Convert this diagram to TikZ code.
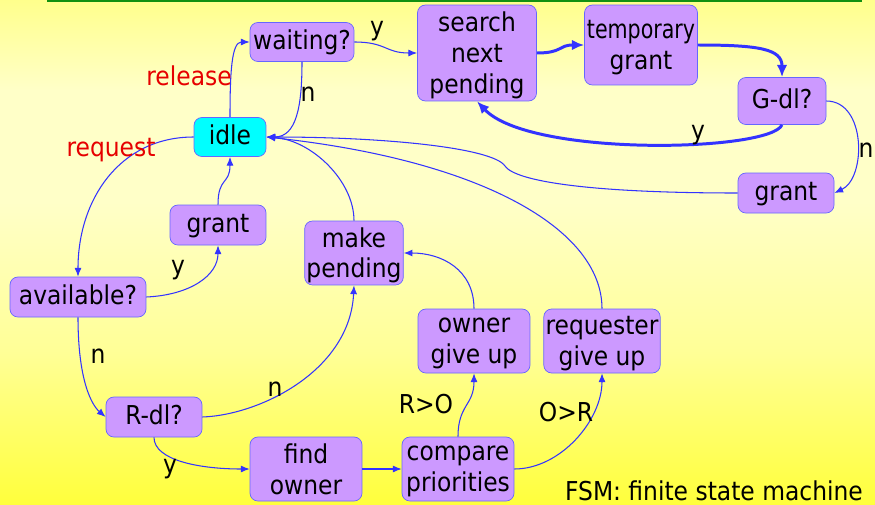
\documentclass[tikz,border=0pt]{standalone}
\usepackage{fontspec}
\setmainfont{DejaVu Sans Condensed}
\newfontfamily\squeezed[FakeStretch=0.88]{DejaVu Sans Condensed}
\usetikzlibrary{arrows.meta}
\definecolor{boxfill}{HTML}{CC99FF}
\definecolor{boxline}{HTML}{6666FF}
\definecolor{idlefill}{HTML}{00FFFF}
\definecolor{wire}{HTML}{3333FF}
\definecolor{bar}{HTML}{119011}
\definecolor{evt}{HTML}{E60000}
\definecolor{bgtop}{HTML}{FFFF8C}
\definecolor{bgmid}{HTML}{FFFFC8}
\definecolor{bglow}{HTML}{FFFF96}
\definecolor{bgbot}{HTML}{FFFF3C}
\pgfdeclareverticalshading{slide}{100bp}{color(0bp)=(bgbot); color(25bp)=(bgbot); color(40bp)=(bglow); color(55bp)=(bgmid); color(66bp)=(bgmid); color(75bp)=(bgtop); color(100bp)=(bgtop)}
\tikzset{
    fsm/.style={draw=boxline,fill=boxfill,rounded corners=4.5pt,align=center,inner sep=1pt},
    oneline/.style={text height=0.9em,text depth=0.1em},
    multiline/.style={text depth=0.04em},
    link/.style={draw=wire,line width=0.6pt,-{Latex[length=5pt,width=4pt]}},
    boldlink/.style={draw=wire,line width=1.7pt,-{Latex[length=7pt,width=6pt]}},
    evtlbl/.style={text=evt}
}

\begin{document}
\begin{tikzpicture}[x=0.02cm,y=-0.02cm,font=\fontsize{14.8}{17.5}\selectfont]

%========================
% Sfondo
%========================

\useasboundingbox (0,0) rectangle (875,504);
\shade[shading=slide] (0,0) rectangle (875,504);
\draw[bar,line width=1.7pt] (47,1) -- (862,1);

%========================
% Stati
%========================

\node[fsm,minimum width=2.08cm,minimum height=0.78cm,oneline] (wait) at (302,42) {waiting?};
\node[fsm,minimum width=2.38cm,minimum height=1.92cm,multiline] (srch) at (477,53) {search\\next\\pending};
\node[fsm,minimum width=2.26cm,minimum height=1.6cm,multiline] (temp) at (641,45) {{\squeezed temporary}\\grant};
\node[fsm,minimum width=1.76cm,minimum height=0.94cm,oneline] (gdl) at (782,101) {G-dl?};
\node[fsm,minimum width=1.44cm,minimum height=0.78cm,oneline,fill=idlefill] (idle) at (230,137) {idle};
\node[fsm,minimum width=1.92cm,minimum height=0.8cm,oneline] (grantR) at (786,193) {grant};
\node[fsm,minimum width=1.92cm,minimum height=0.8cm,oneline] (grantL) at (218,225) {grant};
\node[fsm,minimum width=1.92cm,minimum height=1.28cm,multiline] (mkp) at (354,253) {make\\pending};
\node[fsm,minimum width=2.72cm,minimum height=0.8cm,oneline] (avail) at (78,297) {available?};
\node[fsm,minimum width=2.24cm,minimum height=1.28cm,multiline] (own) at (474,341) {owner\\give up};
\node[fsm,minimum width=2.24cm,minimum height=1.28cm,multiline] (req) at (602,341) {requester\\give up};
\node[fsm,minimum width=1.92cm,minimum height=0.8cm,oneline] (rdl) at (154,417) {R-dl?};
\node[fsm,minimum width=2.24cm,minimum height=1.28cm] (fown) at (306,469) {find\\owner};
\node[fsm,minimum width=2.24cm,minimum height=1.28cm,multiline] (cmp) at (458,469) {compare\\priorities};

%========================
% Transizioni in alto
%========================

% release
\draw[link] (idle.north) .. controls +(0,-45) and +(-18,0) .. (wait.west);
\draw[link] (wait.south) .. controls +(0,45) and +(30,0) .. (idle.east);
\draw[link] (wait.east) .. controls +(32,0) and +(-32,0) .. (srch.west);

% ciclo G-dl
\draw[boldlink] (srch.east) .. controls +(26,0) and +(-26,0) .. (temp.west);
\draw[boldlink] (temp.east) .. controls +(62,0) and +(0,-28) .. (gdl.north);
\draw[boldlink] (gdl.south) .. controls +(-12,27) and +(53,56) .. (srch.south);
\draw[link] (gdl.east) .. controls +(40,0) and +(32,-15) .. (grantR.east);

% ritorno a idle
\coordinate (kink) at (505,166);
\draw[link] (grantR.west) .. controls +(-150,0) and +(10,15) .. (kink)
    .. controls +(-12,-18) and +(120,0) .. (idle.east);
\draw[link] (req.north) .. controls +(0,-80) and +(214,23) .. (idle.east);
\draw[link] (mkp.north) .. controls +(0,-40) and +(45,3) .. (idle.east);

%========================
% Transizioni in basso
%========================

% request
\draw[link] (idle.west) .. controls +(-74,0) and +(0,-77) .. (avail.north);
\draw[link] (avail.east) .. controls +(44,-2) and +(0,30) .. (grantL.south);
\draw[link] (grantL.north) .. controls +(0,-28) and +(0,28) .. (idle.south);
\draw[link] (avail.south) .. controls +(0,63) and +(-14,-12) .. (rdl.west);

% R-dl
\draw[link] (rdl.east) .. controls +(58,-2) and +(-4,85) .. (mkp.south);
\draw[link] (rdl.south) .. controls +(0,23) and +(-50,0) .. (fown.west);
\draw[link] (fown) -- (cmp);

% priorita'
\draw[link] (cmp.north) .. controls +(0,-32) and +(0,32) .. (own.south);
\draw[link] (cmp.east) .. controls +(46,0) and +(0,47) .. (req.south);
\draw[link] (own.north) .. controls +(0,-39) and +(38,0) .. (mkp.east);

%========================
% Etichette
%========================

\node[evtlbl] (lrelease) at (189,76) {release};
\node[evtlbl] (lrequest) at (111,150) {request};

\foreach \px/\py/\txt in {377/31/y, 308/94/n, 698/135/y, 866/150/n,
    178/270/y, 98/356/n, 275/389/n, 170/469/y, 426/404/R>O, 566/412/O>R}
{
    \node at (\px,\py) {\txt};
}

\node[anchor=base east] (fsmnote) at (869,500) {FSM: finite state machine};
\end{tikzpicture}
\end{document}
